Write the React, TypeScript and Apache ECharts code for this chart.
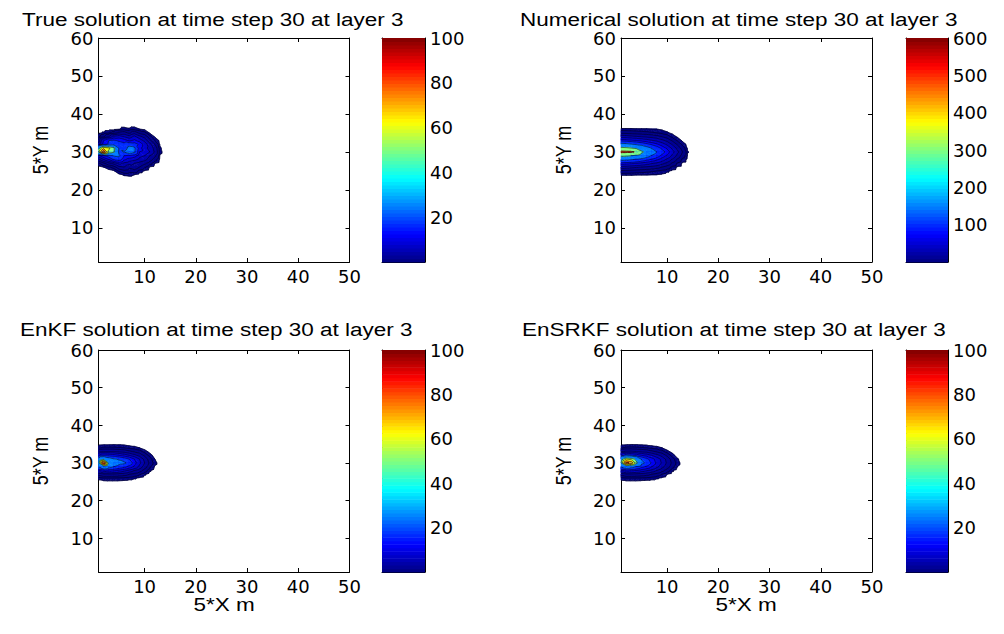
import React, { useEffect, useRef } from "react";
import * as echarts from "echarts";

// Grid nodes: columns are x = 1..15, rows are y = 37 (first row) down to 23 (last row)
const X_FIRST = 1;
const Y_FIRST = 37;

const trueSolution: number[][] = [
  [0, 0, 0, 0, 0, 0, 0, 0, 0, 0, 0, 0, 0, 0, 0],
  [0, 0, 0, 0, 0.2, 0.6, 0.4, 0.7, 0.3, 0.1, 0, 0, 0, 0, 0],
  [0.1, 0.4, 0.8, 1.5, 3, 3.5, 2, 4, 2, 1.4, 0.2, 0, 0, 0, 0],
  [0.6, 2, 5, 9, 10, 8, 6, 9, 6, 4, 1.5, 0.2, 0, 0, 0],
  [3, 12, 17, 18, 16, 14, 11, 13, 10, 7, 3, 1, 0.1, 0, 0],
  [6, 14, 18, 19, 20, 19, 22, 20, 16, 10, 6, 2.5, 0.2, 0, 0],
  [45, 72, 64, 56, 24, 20, 28, 27, 14, 9, 7, 4, 0.4, 0, 0],
  [60, 96, 60, 52, 22, 26, 31, 27, 12, 11, 8, 4.5, 0.5, 0, 0],
  [10, 16, 20, 26, 27, 17, 16, 14, 9, 8, 5, 3, 0.2, 0, 0],
  [4, 8, 12, 18, 20, 13, 10, 9, 7, 6, 3.5, 1.5, 0.1, 0, 0],
  [0.8, 2, 4, 6, 9, 7, 6, 5, 4, 3, 1.5, 0.3, 0, 0, 0],
  [0.1, 0.3, 0.8, 1.5, 4, 5, 3, 4, 2.5, 1.2, 0.2, 0, 0, 0, 0],
  [0, 0, 0, 0.2, 1.2, 2, 1.5, 1.8, 0.6, 0.2, 0, 0, 0, 0, 0],
  [0, 0, 0, 0, 0.1, 0.4, 0.5, 0.3, 0, 0, 0, 0, 0, 0, 0],
  [0, 0, 0, 0, 0, 0, 0, 0, 0, 0, 0, 0, 0, 0, 0],
];

const numericalSolution: number[][] = [
  [0, 0, 0, 0, 0, 0, 0, 0, 0, 0, 0, 0, 0, 0, 0],
  [1.2, 1.2, 1.2, 1.1, 1.1, 1.1, 1.0, 1.0, 0.5, 0, 0, 0, 0, 0, 0],
  [12, 11, 10, 9, 8, 7, 6, 5, 3, 1.5, 0.3, 0, 0, 0, 0],
  [40, 38, 35, 32, 30, 27, 24, 20, 15, 9, 3, 0.5, 0, 0, 0],
  [90, 85, 80, 75, 68, 60, 52, 45, 35, 25, 13, 4, 0.3, 0, 0],
  [170, 165, 155, 140, 125, 110, 95, 80, 62, 45, 28, 13, 3, 0, 0],
  [330, 320, 300, 270, 220, 180, 145, 118, 92, 70, 45, 25, 9, 0.5, 0],
  [610, 600, 590, 520, 330, 250, 190, 150, 115, 90, 60, 35, 15, 1.2, 0],
  [330, 320, 300, 270, 220, 180, 145, 118, 92, 70, 45, 25, 9, 0.5, 0],
  [170, 165, 155, 140, 125, 110, 95, 80, 62, 45, 28, 13, 3, 0, 0],
  [90, 85, 80, 75, 68, 60, 52, 45, 35, 25, 13, 4, 0.3, 0, 0],
  [40, 38, 35, 32, 30, 27, 24, 20, 15, 9, 3, 0.5, 0, 0, 0],
  [12, 11, 10, 9, 8, 7, 6, 5, 3, 1.5, 0.3, 0, 0, 0, 0],
  [1.2, 1.2, 1.2, 1.1, 1.1, 1.1, 1.0, 1.0, 0.5, 0, 0, 0, 0, 0, 0],
  [0, 0, 0, 0, 0, 0, 0, 0, 0, 0, 0, 0, 0, 0, 0],
];

const enkfSolution: number[][] = [
  [0, 0, 0, 0, 0, 0, 0, 0, 0, 0, 0, 0, 0, 0, 0],
  [0, 0, 0, 0, 0, 0, 0, 0, 0, 0, 0, 0, 0, 0, 0],
  [0, 0.1, 0.1, 0.15, 0.15, 0.1, 0, 0, 0, 0, 0, 0, 0, 0, 0],
  [0.8, 1.2, 1.2, 1.2, 1.1, 1, 0.7, 0.5, 0.3, 0, 0, 0, 0, 0, 0],
  [4, 5, 5, 5, 4.5, 4, 3, 2.2, 1.5, 0.6, 0.1, 0, 0, 0, 0],
  [12, 16, 15, 14, 12, 10, 8, 6, 4, 2, 0.6, 0, 0, 0, 0],
  [30, 45, 32, 26, 24, 21, 17, 12, 8, 4, 1.5, 0.3, 0, 0, 0],
  [45, 100, 45, 32, 28, 27, 22, 14, 9, 5, 2, 0.5, 0, 0, 0],
  [28, 40, 30, 25, 22, 19, 15, 11, 7, 3.5, 1.2, 0.2, 0, 0, 0],
  [11, 15, 14, 13, 11, 9, 7, 5, 3.5, 1.6, 0.4, 0, 0, 0, 0],
  [3.5, 4.5, 4.5, 4.5, 4, 3.5, 2.6, 1.8, 1.2, 0.4, 0, 0, 0, 0, 0],
  [0.6, 1.0, 1.0, 1.0, 0.9, 0.8, 0.6, 0.4, 0.2, 0, 0, 0, 0, 0, 0],
  [0, 0.05, 0.1, 0.1, 0.1, 0.05, 0, 0, 0, 0, 0, 0, 0, 0, 0],
  [0, 0, 0, 0, 0, 0, 0, 0, 0, 0, 0, 0, 0, 0, 0],
  [0, 0, 0, 0, 0, 0, 0, 0, 0, 0, 0, 0, 0, 0, 0],
];

const ensrkfSolution: number[][] = [
  [0, 0, 0, 0, 0, 0, 0, 0, 0, 0, 0, 0, 0, 0, 0],
  [0, 0, 0, 0, 0, 0, 0, 0, 0, 0, 0, 0, 0, 0, 0],
  [0, 0.1, 0.15, 0.15, 0.1, 0.05, 0, 0, 0, 0, 0, 0, 0, 0, 0],
  [0.9, 1.2, 1.3, 1.2, 1.1, 1.0, 0.7, 0.5, 0.3, 0, 0, 0, 0, 0, 0],
  [4.5, 5.5, 5.5, 5, 4.5, 4, 3, 2.2, 1.4, 0.5, 0.1, 0, 0, 0, 0],
  [14, 20, 18, 15, 12, 10, 8, 6, 4, 2, 0.6, 0, 0, 0, 0],
  [40, 62, 58, 45, 24, 19, 14, 10, 7, 4, 1.5, 0.4, 0, 0, 0],
  [50, 92, 85, 55, 28, 23, 16, 11, 7.5, 4.5, 2, 0.6, 0, 0, 0],
  [28, 35, 30, 24, 19, 16, 12, 9, 6, 3.5, 1.4, 0.3, 0, 0, 0],
  [11, 14, 13, 12, 10, 8.5, 7, 5, 3.2, 1.6, 0.4, 0, 0, 0, 0],
  [3.5, 4.5, 4.5, 4.2, 3.8, 3.3, 2.5, 1.7, 1.0, 0.3, 0, 0, 0, 0, 0],
  [0.7, 1.0, 1.0, 1.0, 0.9, 0.8, 0.6, 0.4, 0.2, 0, 0, 0, 0, 0, 0],
  [0.05, 0.1, 0.1, 0.1, 0.05, 0, 0, 0, 0, 0, 0, 0, 0, 0, 0],
  [0, 0, 0, 0, 0, 0, 0, 0, 0, 0, 0, 0, 0, 0, 0],
  [0, 0, 0, 0, 0, 0, 0, 0, 0, 0, 0, 0, 0, 0, 0],
];

const levels100 = [0.3, 1, 2.5, 5, 8, 12, 17, 25, 50, 62, 75, 88];
const levels600 = [1, 5, 15, 30, 50, 75, 100, 150, 300, 550];

const range100 = [0, 100];
const range600 = [0, 600];
const cbTicks100 = [20, 40, 60, 80, 100];
const cbTicks600 = [100, 200, 300, 400, 500, 600];
const xTicks = [10, 20, 30, 40, 50];
const yTicks = [10, 20, 30, 40, 50, 60];
const titles = [
  "True solution at time step 30 at layer 3",
  "Numerical solution at time step 30 at layer 3",
  "EnKF solution at time step 30 at layer 3",
  "EnSRKF solution at time step 30 at layer 3",
];
const xName = "5*X m";
const yName = "5*Y m";

const TEXT_FONT = "'Liberation Sans', Arial, Helvetica, sans-serif";
const TICK_FONT = "'DejaVu Sans', 'Liberation Sans', sans-serif";
const STRETCH = 1.25;

function clamp(v: number) {
  return Math.max(0, Math.min(1, v));
}
function jet(t: number) {
  t = clamp(t);
  const r = clamp(Math.min(4 * t - 1.5, -4 * t + 4.5));
  const g = clamp(Math.min(4 * t - 0.5, -4 * t + 3.5));
  const b = clamp(Math.min(4 * t + 0.5, -4 * t + 2.5));
  return `rgb(${Math.round(r * 255)},${Math.round(g * 255)},${Math.round(b * 255)})`;
}

type P3 = [number, number, number];

function clipTri(tri: P3[], L: number): P3[] {
  const out: P3[] = [];
  for (let k = 0; k < 3; k++) {
    const p = tri[k];
    const q = tri[(k + 1) % 3];
    const pin = p[2] >= L;
    const qin = q[2] >= L;
    if (pin) out.push(p);
    if (pin !== qin) {
      const t = (L - p[2]) / (q[2] - p[2]);
      out.push([p[0] + t * (q[0] - p[0]), p[1] + t * (q[1] - p[1]), L]);
    }
  }
  return out;
}

function crossing(tri: P3[], L: number): P3[] {
  const out: P3[] = [];
  for (let k = 0; k < 3; k++) {
    const p = tri[k];
    const q = tri[(k + 1) % 3];
    if (p[2] >= L !== q[2] >= L) {
      const t = (L - p[2]) / (q[2] - p[2]);
      out.push([p[0] + t * (q[0] - p[0]), p[1] + t * (q[1] - p[1]), L]);
    }
  }
  return out;
}

function cellTriangles(field: number[][], cx: number, cy: number): P3[][] {
  const i = cx - X_FIRST;
  const j = Y_FIRST - cy;
  const node = (ii: number, jj: number): P3 => [X_FIRST + ii, Y_FIRST - jj, field[jj][ii]];
  const a = node(i, j);
  const b = node(i + 1, j);
  const c = node(i + 1, j + 1);
  const d = node(i, j + 1);
  return [
    [a, b, c],
    [a, c, d],
  ];
}

function makeCells(field: number[][], minLevel: number) {
  const cells: number[][] = [];
  for (let j = 0; j < field.length - 1; j++) {
    for (let i = 0; i < field[j].length - 1; i++) {
      const m = Math.max(field[j][i], field[j][i + 1], field[j + 1][i], field[j + 1][i + 1]);
      if (m >= minLevel) cells.push([X_FIRST + i, Y_FIRST - j]);
    }
  }
  return cells;
}

function fillRenderer(field: number[][], levels: number[], colors: string[]) {
  return (_params: any, api: any) => {
    const tris = cellTriangles(field, api.value(0), api.value(1));
    const children: any[] = [];
    const toPx = (pts: P3[]) => pts.map((p) => api.coord([p[0], p[1]]));
    for (const tri of tris) {
      const vs = tri.map((p) => p[2]);
      const mn = Math.min(...vs);
      const mx = Math.max(...vs);
      let k = -1;
      for (let l = 0; l < levels.length; l++) if (levels[l] <= mn) k = l;
      if (k >= 0) {
        children.push({
          type: "polygon",
          shape: { points: toPx(tri) },
          style: { fill: colors[k], stroke: colors[k], lineWidth: 0.6 },
        });
      }
      for (let l = k + 1; l < levels.length; l++) {
        if (levels[l] > mx) break;
        const poly = clipTri(tri, levels[l]);
        if (poly.length >= 3) {
          children.push({
            type: "polygon",
            shape: { points: toPx(poly) },
            style: { fill: colors[l], stroke: colors[l], lineWidth: 0.6 },
          });
        }
      }
    }
    return { type: "group", children };
  };
}

function lineRenderer(field: number[][], levels: number[]) {
  return (_params: any, api: any) => {
    const tris = cellTriangles(field, api.value(0), api.value(1));
    const children: any[] = [];
    for (const tri of tris) {
      for (const L of levels) {
        const seg = crossing(tri, L);
        if (seg.length === 2) {
          const p1 = api.coord([seg[0][0], seg[0][1]]);
          const p2 = api.coord([seg[1][0], seg[1][1]]);
          children.push({
            type: "line",
            shape: { x1: p1[0], y1: p1[1], x2: p2[0], y2: p2[1] },
            style: { stroke: "#000", lineWidth: 0.5 },
          });
        }
      }
    }
    return { type: "group", children };
  };
}

const panels = [
  {
    field: trueSolution, levels: levels100, range: range100, cbTicks: cbTicks100, title: titles[0],
    plot: { left: 98.5, top: 38, width: 251, height: 224 },
    cb: { left: 382, top: 38, width: 43, height: 224 },
    titleAt: [22, 19.5], yNameAt: [40, 150], xNameAt: null as null | number[],
  },
  {
    field: numericalSolution, levels: levels600, range: range600, cbTicks: cbTicks600, title: titles[1],
    plot: { left: 621, top: 38, width: 251, height: 224 },
    cb: { left: 906, top: 38, width: 42, height: 224 },
    titleAt: [520, 19.5], yNameAt: [563, 150], xNameAt: null as null | number[],
  },
  {
    field: enkfSolution, levels: levels100, range: range100, cbTicks: cbTicks100, title: titles[2],
    plot: { left: 98.5, top: 350, width: 251, height: 222 },
    cb: { left: 382, top: 350, width: 43, height: 222 },
    titleAt: [20, 330], yNameAt: [40, 461], xNameAt: [224, 605],
  },
  {
    field: ensrkfSolution, levels: levels100, range: range100, cbTicks: cbTicks100, title: titles[3],
    plot: { left: 621, top: 350, width: 251, height: 222 },
    cb: { left: 906, top: 350, width: 42, height: 222 },
    titleAt: [522, 330], yNameAt: [563, 461], xNameAt: [746, 605],
  },
];

const blackLine = { show: true, onZero: false, lineStyle: { color: "#000", width: 1 } };
const tickLabel = { color: "#000", fontSize: 18, fontFamily: TICK_FONT };

function buildOption() {
  const grid: any[] = [];
  const xAxis: any[] = [];
  const yAxis: any[] = [];
  const series: any[] = [];
  const graphic: any[] = [];

  panels.forEach((p) => {
    const span = p.range[1] - p.range[0];
    const colors = p.levels.map((L) => jet((L - p.range[0]) / span));

    const g = grid.length;
    grid.push({ ...p.plot, containLabel: false });
    const xi = xAxis.length;
    [true, false].forEach((lab) =>
      xAxis.push({
        type: "value", gridIndex: g, position: lab ? "bottom" : "top", min: 1, max: 50,
        axisLine: blackLine,
        axisTick: { show: true, inside: true, length: 4, customValues: xTicks, lineStyle: { color: "#000" } },
        axisLabel: { show: lab, customValues: xTicks, margin: 5, showMaxLabel: true, ...tickLabel },
        splitLine: { show: false },
      })
    );
    const yi = yAxis.length;
    [true, false].forEach((lab) =>
      yAxis.push({
        type: "value", gridIndex: g, position: lab ? "left" : "right", min: 1, max: 60,
        axisLine: blackLine,
        axisTick: { show: true, inside: true, length: 4, customValues: yTicks, lineStyle: { color: "#000" } },
        axisLabel: { show: lab, customValues: yTicks, margin: 5, showMaxLabel: true, ...tickLabel },
        splitLine: { show: false },
      })
    );
    const cells = makeCells(p.field, p.levels[0]);
    series.push({
      type: "custom", xAxisIndex: xi, yAxisIndex: yi, data: cells, silent: true, z: 2,
      renderItem: fillRenderer(p.field, p.levels, colors),
    });
    series.push({
      type: "custom", xAxisIndex: xi, yAxisIndex: yi, data: cells, silent: true, z: 3,
      renderItem: lineRenderer(p.field, p.levels),
    });

    const cg = grid.length;
    grid.push({ ...p.cb, containLabel: false });
    const cxi = xAxis.length;
    ["bottom", "top"].forEach((pos) =>
      xAxis.push({
        type: "value", gridIndex: cg, position: pos, min: 0, max: 1,
        axisLine: blackLine, axisTick: { show: false }, axisLabel: { show: false }, splitLine: { show: false },
      })
    );
    const cyi = yAxis.length;
    [true, false].forEach((lab) =>
      yAxis.push({
        type: "value", gridIndex: cg, position: lab ? "right" : "left", min: p.range[0], max: p.range[1],
        axisLine: blackLine,
        axisTick: { show: true, inside: true, length: 4, customValues: p.cbTicks, lineStyle: { color: "#000" } },
        axisLabel: { show: lab, customValues: p.cbTicks, margin: 5, showMaxLabel: true, ...tickLabel },
        splitLine: { show: false },
      })
    );
    const steps = 64;
    const stepData: number[][] = [];
    for (let k = 0; k < steps; k++) {
      stepData.push([0.5, p.range[0] + (k * span) / steps, p.range[0] + ((k + 1) * span) / steps]);
    }
    series.push({
      type: "custom", xAxisIndex: cxi, yAxisIndex: cyi, data: stepData, silent: true, z: 1,
      encode: { x: 0, y: 1 },
      renderItem: (params: any, api: any) => {
        const lo = api.value(1);
        const hi = api.value(2);
        const p0 = api.coord([0, hi]);
        const p1 = api.coord([1, lo]);
        const c = jet((params.dataIndex + 0.5) / steps);
        return {
          type: "rect",
          shape: { x: p0[0], y: p0[1], width: p1[0] - p0[0], height: p1[1] - p0[1] + 0.5 },
          style: { fill: c, stroke: null },
        };
      },
    });

    graphic.push({
      type: "text", x: p.titleAt[0], y: p.titleAt[1], scaleX: STRETCH,
      style: { text: p.title, fontSize: 18, fontFamily: TEXT_FONT, fill: "#000", align: "left", verticalAlign: "middle" },
    });
    graphic.push({
      type: "text", x: p.yNameAt[0], y: p.yNameAt[1], rotation: Math.PI / 2, scaleY: STRETCH,
      style: { text: yName, fontSize: 18, fontFamily: TEXT_FONT, fill: "#000", align: "center", verticalAlign: "middle" },
    });
    if (p.xNameAt) {
      graphic.push({
        type: "text", x: p.xNameAt[0], y: p.xNameAt[1], scaleX: STRETCH,
        style: { text: xName, fontSize: 18, fontFamily: TEXT_FONT, fill: "#000", align: "center", verticalAlign: "middle" },
      });
    }
  });

  return { animation: false, backgroundColor: "#fff", grid, xAxis, yAxis, series, graphic };
}

export default function App() {
  const ref = useRef<HTMLDivElement>(null);
  useEffect(() => {
    document.body.style.margin = "0";
    const chart = echarts.init(ref.current!, undefined, { renderer: "svg" });
    chart.setOption(buildOption() as any);
    return () => chart.dispose();
  }, []);
  return <div ref={ref} style={{ width: 1004, height: 634 }} />;
}
